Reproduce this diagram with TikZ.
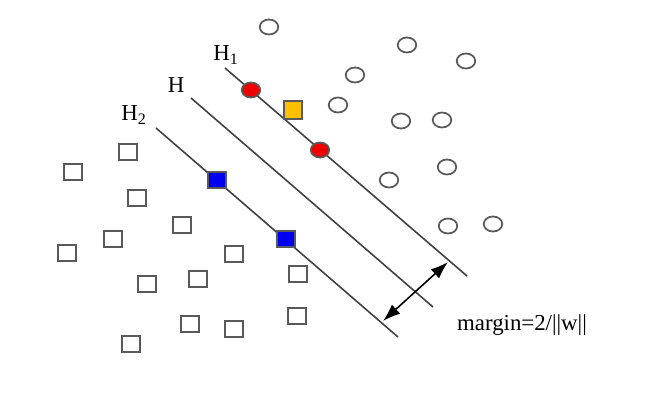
\documentclass[tikz,border=0pt]{standalone}
\usepackage{fontspec}
\setmainfont{Liberation Serif}
\usetikzlibrary{arrows.meta,shapes.geometric}
\definecolor{suppgold}{HTML}{FFC000}
\definecolor{suppblue}{HTML}{0000F0}
\definecolor{suppred}{HTML}{EE0000}
\tikzset{
  posdot/.style={ellipse, draw=black!65, line width=1pt, inner sep=0pt, minimum width=0.37cm, minimum height=0.3cm},
  negbox/.style={rectangle, draw=black!65, line width=1pt, inner sep=0pt, minimum width=0.37cm, minimum height=0.31cm},
  plane/.style={draw=black!75, line width=0.9pt},
  lbl/.style={font=\fontsize{13}{15}\selectfont}
}
\begin{document}
\begin{tikzpicture}[x=0.02cm,y=-0.02cm]
        \useasboundingbox (0,0) rectangle (653,410);
        % hyperplanes
        \coordinate (h1a) at (225,68);  \coordinate (h1b) at (467,276);
        \coordinate (ha) at (191,98);   \coordinate (hb) at (433,307);
        \coordinate (h2a) at (156,128); \coordinate (h2b) at (398,337);
        \draw[plane] (h1a) -- (h1b);
        \draw[plane] (ha) -- (hb);
        \draw[plane] (h2a) -- (h2b);
        \node[lbl] (lh1) at (226,55) {H\textsubscript{1}};
        \node[lbl] (lh) at (176,85) {H};
        \node[lbl] (lh2) at (134,115) {H\textsubscript{2}};

        % class +1 (circles)
        \node[posdot] (c1) at (269,27) {};
        \node[posdot] (c2) at (407,45) {};
        \node[posdot] (c3) at (466,61) {};
        \node[posdot] (c4) at (355,75) {};
        \node[posdot] (c5) at (338,105) {};
        \node[posdot] (c6) at (401,121) {};
        \node[posdot] (c7) at (442,120) {};
        \node[posdot] (c8) at (447,167) {};
        \node[posdot] (c9) at (389,180) {};
        \node[posdot] (c10) at (448,226) {};
        \node[posdot] (c11) at (493,224) {};
        \node[posdot, fill=suppred] (r1) at (251,90) {};
        \node[posdot, fill=suppred] (r2) at (320,150) {};

        % class -1 (squares)
        \node[negbox] (s1) at (128,152) {};
        \node[negbox] (s2) at (73,172) {};
        \node[negbox] (s3) at (137,198) {};
        \node[negbox] (s4) at (182,225) {};
        \node[negbox] (s5) at (113,239) {};
        \node[negbox] (s6) at (67,253) {};
        \node[negbox] (s7) at (234,254) {};
        \node[negbox] (s8) at (147,284) {};
        \node[negbox] (s9) at (198,279) {};
        \node[negbox] (s10) at (298,274) {};
        \node[negbox] (s11) at (190,324) {};
        \node[negbox] (s12) at (234,329) {};
        \node[negbox] (s13) at (297,316) {};
        \node[negbox] (s14) at (131,344) {};
        \node[negbox, fill=suppblue] (b1) at (217,180) {};
        \node[negbox, fill=suppblue] (b2) at (286,239) {};
        \node[negbox, fill=suppgold, minimum height=0.36cm] (q) at (293,110) {};

        % margin
        \coordinate (ma) at (383,321);
        \coordinate (mb) at (448,262);
        \draw[line width=0.9pt, {Latex[length=10pt,width=7pt]}-{Latex[length=10pt,width=7pt]}] (ma) -- (mb);
        \node[lbl] (mtxt) at (522,325) {margin=2/||w||};
\end{tikzpicture}
\end{document}
